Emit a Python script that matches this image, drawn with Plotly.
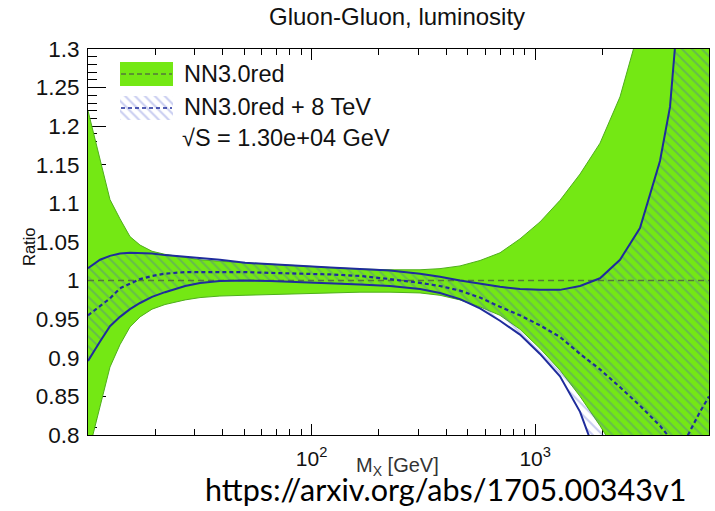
import plotly.graph_objects as go

# ---------------- data ----------------
mass = [10.0, 10.53, 11.32, 12.54, 13.9, 15.41, 17.09, 19.33, 22.1, 27.2, 31.7, 38.9,
        50.4, 65.2, 88.7, 120.9, 164.6, 224.2, 305.4, 375.2, 461.1, 566.3, 696, 855,
        1051, 1291, 1587, 1949, 2395, 2942, 3615, 4008, 4442, 5458, 5989]

nn30_up = [1.22, 1.193, 1.155, 1.105, 1.080, 1.057, 1.046, 1.038, 1.034, 1.030, 1.027, 1.025,
           1.023, 1.021, 1.019, 1.017, 1.015, 1.014, 1.014, 1.0155, 1.019, 1.026, 1.036, 1.054,
           1.076, 1.104, 1.138, 1.178, 1.238, 1.33, 1.45, 1.52, 1.60, 1.75, 1.80]

nn30_dn = [0.775, 0.800, 0.837, 0.888, 0.917, 0.940, 0.953, 0.963, 0.969, 0.975, 0.978, 0.980,
           0.981, 0.982, 0.983, 0.984, 0.985, 0.985, 0.984, 0.981, 0.975, 0.966, 0.955, 0.937,
           0.912, 0.884, 0.850, 0.812, 0.770, 0.720, 0.660, 0.630, 0.600, 0.550, 0.520]

nn30_cv = [1.0] * len(mass)

tev8_up = [1.016, 1.021, 1.027, 1.032, 1.035, 1.036, 1.0355, 1.035, 1.033, 1.031, 1.029, 1.027,
           1.023, 1.021, 1.019, 1.017, 1.015, 1.013, 1.009, 1.005, 1.000, 0.996, 0.992, 0.989,
           0.988, 0.988, 0.993, 1.003, 1.027, 1.068, 1.155, 1.225, 1.38, 1.60, 1.70]

tev8_dn = [0.896, 0.907, 0.921, 0.941, 0.953, 0.963, 0.971, 0.979, 0.985, 0.993, 0.997, 0.9995,
           1.000, 0.9995, 0.998, 0.997, 0.995, 0.993, 0.989, 0.984, 0.976, 0.964, 0.948, 0.930,
           0.905, 0.876, 0.830, 0.760, 0.700, 0.600, 0.550, 0.520, 0.500, 0.450, 0.420]

tev8_cv = [0.955, 0.960, 0.967, 0.977, 0.990, 0.996, 1.002, 1.006, 1.009, 1.011, 1.011, 1.011,
           1.011, 1.010, 1.009, 1.008, 1.006, 1.002, 0.997, 0.993, 0.987, 0.978, 0.966, 0.955,
           0.942, 0.927, 0.905, 0.885, 0.862, 0.838, 0.812, 0.796, 0.780, 0.830, 0.850]

y_ticks = [0.8, 0.85, 0.9, 0.95, 1.0, 1.05, 1.1, 1.15, 1.2, 1.25, 1.3]
y_labels = ["0.8", "0.85", "0.9", "0.95", "1", "1.05", "1.1", "1.15", "1.2", "1.25", "1.3"]
x_major = [10, 100, 1000]
x_labels = [" ", "10<sup>2</sup>", "10<sup>3</sup>"]
x_minor = [20, 30, 40, 50, 60, 70, 80, 90, 200, 300, 400, 500, 600, 700, 800, 900,
           2000, 3000, 4000, 5000]

# ---------------- style ----------------
GREEN = "#74e814"
GREEN_EDGE = "#4fae1c"
GREEN_CV = "#53783a"
BLUE = "#1f2c9c"
HATCH = "rgba(70,85,205,0.6)"
FONT = "Liberation Sans"

W, H = 715, 511
L, R, T, B = 88, 709, 49, 435


def px(x):
    return (x - L) / (R - L)


def py(y):
    return (B - y) / (B - T)


hatch = dict(shape="\\", fgcolor=HATCH, bgcolor="rgba(0,0,0,0)", size=7, solidity=0.28)

fig = go.Figure()

# NN3.0red band
fig.add_trace(go.Scatter(x=mass, y=nn30_dn, mode="lines",
                         line=dict(color=GREEN_EDGE, width=1), showlegend=False))
fig.add_trace(go.Scatter(x=mass, y=nn30_up, mode="lines", fill="tonexty", fillcolor=GREEN,
                         line=dict(color=GREEN_EDGE, width=1), showlegend=False))
# NN3.0red + 8 TeV hatched band
fig.add_trace(go.Scatter(x=mass, y=tev8_dn, mode="lines",
                         line=dict(width=0, color="rgba(0,0,0,0)"), showlegend=False))
fig.add_trace(go.Scatter(x=mass, y=tev8_up, mode="lines", fill="tonexty",
                         fillcolor="rgba(0,0,0,0)", fillpattern=hatch,
                         line=dict(width=0, color="rgba(0,0,0,0)"), showlegend=False))
# central lines
fig.add_trace(go.Scatter(x=mass, y=nn30_cv, mode="lines",
                         line=dict(color=GREEN_CV, width=1.5, dash="6px,4px"), showlegend=False))
fig.add_trace(go.Scatter(x=mass, y=tev8_up, mode="lines",
                         line=dict(color=BLUE, width=2), showlegend=False))
fig.add_trace(go.Scatter(x=mass, y=tev8_dn, mode="lines",
                         line=dict(color=BLUE, width=2), showlegend=False))
fig.add_trace(go.Scatter(x=mass, y=tev8_cv, mode="lines",
                         line=dict(color=BLUE, width=2.2, dash="4px,3px"), showlegend=False))

# legend hatched box on an overlay axis
hx = [px(120), px(173), px(173), px(120), px(120)]
hy = [py(120), py(120), py(96), py(96), py(120)]
fig.add_trace(go.Scatter(x=hx, y=hy, xaxis="x2", yaxis="y2", mode="lines", fill="toself",
                         fillcolor="rgba(0,0,0,0)", fillpattern=hatch,
                         line=dict(width=0, color="rgba(0,0,0,0)"), showlegend=False,
                         hoverinfo="skip"))

shapes = [
    dict(type="rect", xref="paper", yref="paper", x0=px(120), x1=px(173), y0=py(86), y1=py(62),
         fillcolor=GREEN, line=dict(width=0), layer="above"),
    dict(type="line", xref="paper", yref="paper", x0=px(121), x1=px(172), y0=py(74), y1=py(74),
         line=dict(color=GREEN_CV, width=1.5, dash="5px,3px"), layer="above"),
    dict(type="line", xref="paper", yref="paper", x0=px(121), x1=px(172), y0=py(108), y1=py(108),
         line=dict(color=BLUE, width=1.5, dash="4px,3px"), layer="above"),
]

annotations = [
    dict(text="Gluon-Gluon, luminosity", x=px(397), y=py(17), xref="paper", yref="paper",
         xanchor="center", yanchor="middle", showarrow=False,
         font=dict(family=FONT, size=24, color="#111")),
    dict(text="NN3.0red", x=px(182), y=py(74), xref="paper", yref="paper",
         xanchor="left", yanchor="middle", showarrow=False,
         font=dict(family=FONT, size=23.5, color="#111")),
    dict(text="NN3.0red + 8 TeV", x=px(182), y=py(107), xref="paper", yref="paper",
         xanchor="left", yanchor="middle", showarrow=False,
         font=dict(family=FONT, size=23.5, color="#111")),
    dict(text="√S = 1.30e+04 GeV", x=px(180), y=py(138), xref="paper", yref="paper",
         xanchor="left", yanchor="middle", showarrow=False,
         font=dict(family=FONT, size=23.5, color="#111")),
    dict(text="Ratio", x=px(29), y=py(247), xref="paper", yref="paper", textangle=-90,
         xanchor="center", yanchor="middle", showarrow=False,
         font=dict(family=FONT, size=16.5, color="#111")),
    dict(text="M<sub>X</sub> [GeV]", x=px(397), y=py(466), xref="paper", yref="paper",
         xanchor="center", yanchor="middle", showarrow=False,
         font=dict(family=FONT, size=20, color="#333")),
    dict(text="https://arxiv.org/abs/1705.00343v1", x=px(445), y=py(489), xref="paper",
         yref="paper", xanchor="center", yanchor="middle", showarrow=False,
         font=dict(family="Lato", size=30.5, color="#000")),
]

fig.update_layout(
    width=W, height=H,
    margin=dict(l=L, r=W - R, t=T, b=H - B, pad=0),
    paper_bgcolor="white", plot_bgcolor="white",
    showlegend=False,
    shapes=shapes,
    annotations=annotations,
    xaxis=dict(type="log", range=[1, 3.7773], showgrid=False, zeroline=False,
               showline=True, linecolor="black", linewidth=1, mirror="ticks",
               ticks="inside", ticklen=11, tickcolor="black", tickwidth=1,
               tickmode="array", tickvals=x_major, ticktext=x_labels,
               minor=dict(tickmode="array", tickvals=x_minor, ticks="inside",
                          ticklen=6, tickcolor="black", tickwidth=1, showgrid=False),
               tickfont=dict(family=FONT, size=21, color="#111"),
               layer="below traces", ticklabelstandoff=5),
    yaxis=dict(range=[0.8, 1.3], showgrid=False, zeroline=False,
               showline=True, linecolor="black", linewidth=1, mirror="ticks",
               ticks="inside", ticklen=18, tickcolor="black", tickwidth=1,
               tickmode="array", tickvals=y_ticks, ticktext=y_labels,
               minor=dict(dtick=0.01, ticks="inside", ticklen=9, tickcolor="black",
                          tickwidth=1, showgrid=False),
               tickfont=dict(family=FONT, size=22.5, color="#111"),
               layer="below traces", ticklabelstandoff=3),
    xaxis2=dict(overlaying="x", range=[0, 1], visible=False, fixedrange=True),
    yaxis2=dict(overlaying="y", range=[0, 1], visible=False, fixedrange=True),
)

fig.write_html("out.html")
